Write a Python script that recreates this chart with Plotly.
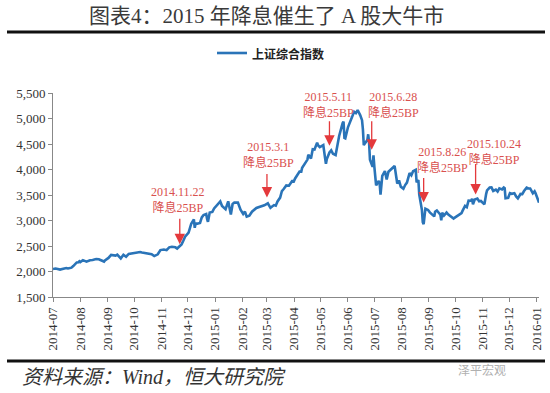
import plotly.graph_objects as go

# ---- data: Shanghai Composite Index (上证综合指数) ----
dates = [
    "2014-07-01","2014-07-04","2014-07-09","2014-07-11","2014-07-16","2014-07-18","2014-07-22","2014-07-24",
    "2014-07-25","2014-07-28","2014-07-30","2014-07-31",
    "2014-08-01","2014-08-04","2014-08-08","2014-08-12","2014-08-15","2014-08-19","2014-08-22","2014-08-26",
    "2014-08-28","2014-08-29",
    "2014-09-02","2014-09-05","2014-09-10","2014-09-12","2014-09-16","2014-09-19","2014-09-22","2014-09-25",
    "2014-09-30",
    "2014-10-08","2014-10-10","2014-10-14","2014-10-17","2014-10-21","2014-10-24","2014-10-28","2014-10-31",
    "2014-11-04","2014-11-07","2014-11-10","2014-11-13","2014-11-17","2014-11-19","2014-11-21","2014-11-24",
    "2014-11-26","2014-11-28",
    "2014-12-02","2014-12-04","2014-12-05","2014-12-08","2014-12-09","2014-12-10","2014-12-12","2014-12-15",
    "2014-12-17","2014-12-19","2014-12-22","2014-12-23","2014-12-24","2014-12-26","2014-12-29","2014-12-31",
    "2015-01-05","2015-01-07","2015-01-09","2015-01-13","2015-01-16","2015-01-19","2015-01-21","2015-01-23",
    "2015-01-27","2015-01-29","2015-01-30",
    "2015-02-02","2015-02-04","2015-02-06","2015-02-09","2015-02-12","2015-02-17","2015-02-26","2015-02-27",
    "2015-03-02","2015-03-05","2015-03-09","2015-03-11","2015-03-13","2015-03-16","2015-03-18","2015-03-20",
    "2015-03-23","2015-03-26","2015-03-30","2015-03-31",
    "2015-04-02","2015-04-07","2015-04-09","2015-04-10","2015-04-14","2015-04-16","2015-04-17","2015-04-20",
    "2015-04-22","2015-04-24","2015-04-27","2015-04-28","2015-04-30",
    "2015-05-04","2015-05-06","2015-05-07","2015-05-08","2015-05-11","2015-05-13","2015-05-15","2015-05-18",
    "2015-05-20","2015-05-22","2015-05-26","2015-05-27","2015-05-28","2015-05-29",
    "2015-06-01","2015-06-03","2015-06-05","2015-06-08","2015-06-10","2015-06-12","2015-06-15","2015-06-17",
    "2015-06-18","2015-06-19","2015-06-23","2015-06-24","2015-06-25","2015-06-26","2015-06-29","2015-06-30",
    "2015-07-01","2015-07-02","2015-07-03","2015-07-06","2015-07-07","2015-07-08","2015-07-09","2015-07-10",
    "2015-07-13","2015-07-15","2015-07-17","2015-07-21","2015-07-24","2015-07-27","2015-07-29","2015-07-31",
    "2015-08-03","2015-08-05","2015-08-07","2015-08-10","2015-08-12","2015-08-14","2015-08-17","2015-08-18",
    "2015-08-20","2015-08-21","2015-08-24","2015-08-25","2015-08-26","2015-08-27","2015-08-28","2015-08-31",
    "2015-09-01","2015-09-02","2015-09-07","2015-09-08","2015-09-10","2015-09-14","2015-09-15","2015-09-16",
    "2015-09-18","2015-09-21","2015-09-23","2015-09-25","2015-09-29","2015-09-30",
    "2015-10-08","2015-10-09","2015-10-12","2015-10-14","2015-10-16","2015-10-19","2015-10-20","2015-10-21",
    "2015-10-23","2015-10-26","2015-10-28","2015-10-30",
    "2015-11-03","2015-11-05","2015-11-06","2015-11-09","2015-11-11","2015-11-13","2015-11-16","2015-11-18",
    "2015-11-20","2015-11-23","2015-11-25","2015-11-26","2015-11-27","2015-11-30",
    "2015-12-02","2015-12-04","2015-12-07","2015-12-09","2015-12-11","2015-12-14","2015-12-16","2015-12-18",
    "2015-12-21","2015-12-23","2015-12-25","2015-12-28","2015-12-30","2015-12-31",
    "2016-01-04",
]
index_values = [
    2050,2059,2038,2047,2067,2059,2075,2107,
    2126,2178,2182,2201,
    2185,2223,2194,2222,2226,2245,2241,2207,
    2195,2217,
    2266,2326,2312,2331,2256,2329,2290,2345,
    2363,
    2382,2374,2360,2341,2339,2302,2337,2420,
    2430,2418,2474,2485,2474,2450,2487,2532,
    2604,2683,
    2763,2899,2937,3020,2856,2940,2938,2953,
    3061,3108,3128,3032,2973,3157,3168,3235,
    3351,3374,3285,3223,3376,3116,3323,3351,
    3352,3262,3210,
    3128,3175,3076,3095,3173,3247,3298,3310,
    3336,3248,3302,3290,3373,3449,3578,3617,
    3688,3683,3786,3748,
    3825,3961,3958,4034,4135,4194,4287,4217,
    4398,4393,4527,4476,4441,
    4480,4229,4112,4205,4333,4375,4308,4283,
    4446,4657,4910,4941,4620,4611,
    4828,4910,5023,5131,5106,5166,5062,4967,
    4785,4478,4576,4690,4527,4192,4053,4277,
    4053,3912,3687,3775,3727,3507,3710,3877,
    3970,3805,3957,4017,4070,3725,3789,3664,
    3623,3695,3744,3928,3887,3965,3993,3749,
    3794,3507,3210,2965,2927,3084,3232,3206,
    3166,3160,3080,3170,3197,3114,3005,3152,
    3097,3156,3116,3092,3038,3053,
    3143,3183,3287,3263,3391,3386,3425,3320,
    3412,3430,3375,3383,
    3316,3522,3590,3646,3650,3580,3606,3568,
    3630,3610,3647,3635,3436,3445,
    3536,3524,3536,3472,3435,3520,3516,3578,
    3643,3627,3628,3533,3573,3539,
    3350,
]

series_name = "上证综合指数"
cut_dates = ["2014-11-22", "2015-03-01", "2015-05-11", "2015-06-28", "2015-08-26", "2015-10-24"]
cut_labels = ["2014.11.22", "2015.3.1", "2015.5.11", "2015.6.28", "2015.8.26", "2015.10.24"]
cut_text = "降息25BP"
arrow_tip_values = [2534, 3451, 4466, 4388, 3354, 3510]
label_values = [3393, 4280, 5266, 5266, 4183, 4339]
label_shift_px = [-2, 2, -1, 22, 19, 18]
arrow_len_px = [27, 25, 26, 30, 26, 32]

y_ticks = [1500, 2000, 2500, 3000, 3500, 4000, 4500, 5000, 5500]

title_text = "图表4：2015 年降息催生了 A 股大牛市"
source_text = "资料来源：Wind，恒大研究院"
watermark_text = "泽平宏观"

LINE_BLUE = "#2A74B8"
RED = "#E4393C"
RED_TXT = "#D9504E"
SERIF = "Liberation Serif, Noto Sans CJK SC, serif"

fig = go.Figure()
fig.add_trace(go.Scatter(
    x=dates, y=index_values, mode="lines", name=series_name,
    line=dict(color=LINE_BLUE, width=2.6), showlegend=False,
))

W, H = 550, 393
L, R, T, B = 53, 11, 93, 96
pw, ph = W - L - R, H - T - B

def px_x(px):
    return (px - L) / pw

def px_y(py):
    return (H - B - py) / ph

annotations = []
for d, lab, tip, lv, sh, al in zip(cut_dates, cut_labels, arrow_tip_values, label_values,
                                   label_shift_px, arrow_len_px):
    annotations.append(dict(
        x=d, y=tip, xref="x", yref="y", text="", showarrow=True,
        ax=0, ay=-al, arrowhead=2, arrowsize=1.6, arrowwidth=1.3, arrowcolor=RED,
    ))
    annotations.append(dict(
        x=d, y=lv, xref="x", yref="y", xshift=sh, showarrow=False,
        text=f"{lab}<br>{cut_text}", align="center",
        font=dict(family=SERIF, size=12, color=RED_TXT),
        xanchor="center", yanchor="middle",
    ))

# title
annotations.append(dict(
    x=px_x(266), y=px_y(16), xref="paper", yref="paper", showarrow=False,
    text=title_text, xanchor="center", yanchor="middle",
    font=dict(family=SERIF, size=21, color="#3A3A3A"),
))
# legend (drawn manually so it does not push the margins)
annotations.append(dict(
    x=px_x(250), y=px_y(53), xref="paper", yref="paper", showarrow=False,
    text=f"<b>{series_name}</b>", xanchor="left", yanchor="middle",
    font=dict(family="Noto Sans CJK SC", size=12, color="#222222"),
))
# footer
annotations.append(dict(
    x=px_x(20), y=px_y(377), xref="paper", yref="paper", showarrow=False,
    text=f"<i>{source_text}</i>", xanchor="left", yanchor="middle",
    font=dict(family=SERIF, size=20, color="#333333"),
))
annotations.append(dict(
    x=px_x(508), y=px_y(369), xref="paper", yref="paper", showarrow=False,
    text=watermark_text, xanchor="right", yanchor="middle",
    font=dict(family="Noto Sans CJK SC", size=12, color="#B0B0B0"),
))

shapes = [
    dict(type="line", xref="paper", yref="paper", x0=px_x(7), x1=px_x(545),
         y0=px_y(32), y1=px_y(32), line=dict(color="#111111", width=3)),
    dict(type="line", xref="paper", yref="paper", x0=px_x(7), x1=px_x(545),
         y0=px_y(361), y1=px_y(361), line=dict(color="#111111", width=3)),
    dict(type="line", xref="paper", yref="paper", x0=px_x(217), x1=px_x(247),
         y0=px_y(53), y1=px_y(53), line=dict(color=LINE_BLUE, width=2.6)),
]

fig.update_layout(
    width=W, height=H,
    margin=dict(l=L, r=R, t=T, b=B, pad=0, autoexpand=False),
    paper_bgcolor="white", plot_bgcolor="white",
    showlegend=False,
    annotations=annotations,
    shapes=shapes,
)
fig.update_xaxes(
    type="date", range=["2014-07-01", "2016-01-04"],
    tick0="2014-07-01", dtick="M1", tickformat="%Y-%m", tickangle=-90,
    ticks="outside", ticklen=4, tickcolor="#888888",
    showline=True, linecolor="#888888", linewidth=1,
    showgrid=False, zeroline=False, automargin=False,
    tickfont=dict(family=SERIF, size=13, color="#333333"),
)
fig.update_yaxes(
    range=[1500, 5500], tickvals=y_ticks, tickformat=",",
    ticks="outside", ticklen=4, tickcolor="#888888",
    showline=True, linecolor="#888888", linewidth=1,
    showgrid=False, zeroline=False, automargin=False,
    tickfont=dict(family=SERIF, size=13, color="#333333"),
)

fig.write_html(
    "out.html",
    config={"displayModeBar": False},
    post_script="document.body.style.margin='0';document.body.style.overflow='hidden';",
)
